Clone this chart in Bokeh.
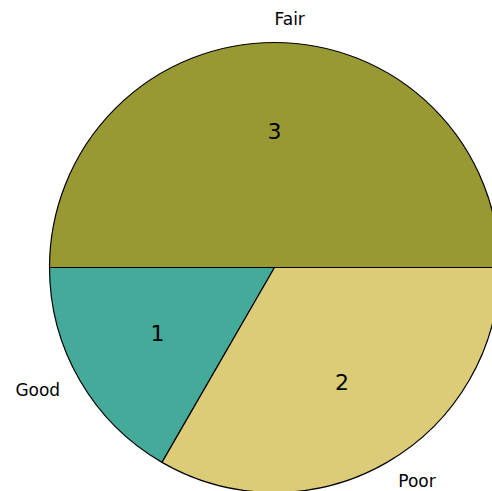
import numpy as np
from bokeh.plotting import figure
from bokeh.models import ColumnDataSource, Range1d
from bokeh.core.properties import value
from bokeh.embed import file_html
from bokeh.resources import INLINE

categories = ["Fair", "Good", "Poor"]
counts = [3, 1, 2]
colors = ["#999933", "#44AA99", "#DDCC77"]

W, H = 492, 491
cx, cy, R = 274, 224, 225

vals = np.array(counts, dtype=float)
frac = vals / vals.sum()
ends = np.cumsum(frac) * 2 * np.pi
starts = ends - frac * 2 * np.pi
mids = (starts + ends) / 2

src = ColumnDataSource(dict(start=starts, end=ends, color=colors))

p = figure(width=W, height=H, output_backend="svg", toolbar_location=None,
           x_range=Range1d(0, W), y_range=Range1d(0, H), min_border=0)
p.axis.visible = False
p.grid.visible = False
p.outline_line_color = None
p.background_fill_color = "white"

p.wedge(x=cx, y=cy, radius=R, start_angle="start", end_angle="end",
        fill_color="color", line_color="black", line_width=1.2, source=src)

lx = cx + 1.1 * R * np.cos(mids)
ly = cy + 1.1 * R * np.sin(mids)
align = ["left" if np.cos(m) > 0 else "right" for m in mids]
lab = ColumnDataSource(dict(x=lx, y=ly, t=categories, a=align))
p.text(x="x", y="y", text="t", text_align="a", text_baseline="middle",
       text_font=value("DejaVu Sans"), text_font_size="17px", text_color="black",
       y_offset=-1, source=lab)

nx = cx + 0.6 * R * np.cos(mids)
ny = cy + 0.6 * R * np.sin(mids)
num = ColumnDataSource(dict(x=nx, y=ny, t=[str(c) for c in counts]))
p.text(x="x", y="y", text="t", text_align="center", text_baseline="middle",
       text_font=value("DejaVu Sans"), text_font_size="22px", text_color="black",
       y_offset=-2, source=num)

open("out.html", "w").write(file_html(p, INLINE))
